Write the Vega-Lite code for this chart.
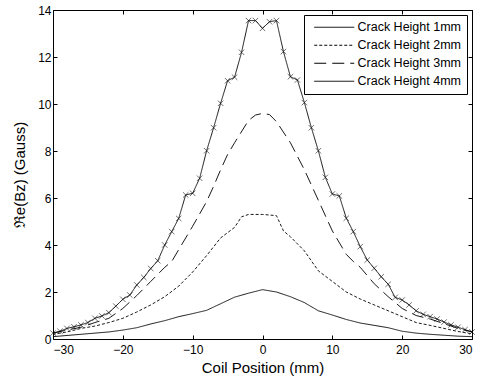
{
  "$schema": "https://vega.github.io/schema/vega-lite/v6.json",
  "width": 419,
  "height": 329,
  "autosize": "none",
  "padding": {"left": 53, "top": 10, "right": 5, "bottom": 44},
  "background": "white",
  "config": {
    "font": "Liberation Sans",
    "view": {"stroke": "black", "strokeWidth": 1},
    "axis": {
      "grid": false,
      "domain": false,
      "tickColor": "black",
      "tickSize": -4,
      "labelColor": "black",
      "labelFont": "Liberation Sans",
      "labelFontSize": 12,
      "titleFont": "Liberation Sans",
      "titleFontSize": 15,
      "titleFontWeight": "normal",
      "titleColor": "black"
    },
    "legend": {
      "orient": "top-right",
      "offset": 5,
      "strokeColor": "black",
      "fillColor": "white",
      "padding": 6,
      "symbolType": "M-8,0H8",
      "symbolSize": 25,
      "symbolOffset": 18,
      "symbolStrokeWidth": 1,
      "symbolStrokeColor": "black",
      "labelFont": "Liberation Sans",
      "labelFontSize": 12.5,
      "labelColor": "black",
      "labelOffset": 17,
      "rowPadding": 5
    }
  },
  "data": {
    "values": [
      {"x": -30, "y": 0.1, "series": "Crack Height 1mm"},
      {"x": -28, "y": 0.15, "series": "Crack Height 1mm"},
      {"x": -26, "y": 0.2, "series": "Crack Height 1mm"},
      {"x": -24, "y": 0.25, "series": "Crack Height 1mm"},
      {"x": -22, "y": 0.3, "series": "Crack Height 1mm"},
      {"x": -20, "y": 0.38, "series": "Crack Height 1mm"},
      {"x": -18, "y": 0.48, "series": "Crack Height 1mm"},
      {"x": -16, "y": 0.64, "series": "Crack Height 1mm"},
      {"x": -14, "y": 0.78, "series": "Crack Height 1mm"},
      {"x": -12, "y": 0.95, "series": "Crack Height 1mm"},
      {"x": -10, "y": 1.08, "series": "Crack Height 1mm"},
      {"x": -8, "y": 1.22, "series": "Crack Height 1mm"},
      {"x": -6, "y": 1.5, "series": "Crack Height 1mm"},
      {"x": -4, "y": 1.78, "series": "Crack Height 1mm"},
      {"x": -2, "y": 1.95, "series": "Crack Height 1mm"},
      {"x": 0, "y": 2.1, "series": "Crack Height 1mm"},
      {"x": 2, "y": 2.0, "series": "Crack Height 1mm"},
      {"x": 4, "y": 1.8, "series": "Crack Height 1mm"},
      {"x": 6, "y": 1.55, "series": "Crack Height 1mm"},
      {"x": 8, "y": 1.2, "series": "Crack Height 1mm"},
      {"x": 10, "y": 1.02, "series": "Crack Height 1mm"},
      {"x": 12, "y": 0.83, "series": "Crack Height 1mm"},
      {"x": 14, "y": 0.68, "series": "Crack Height 1mm"},
      {"x": 16, "y": 0.58, "series": "Crack Height 1mm"},
      {"x": 18, "y": 0.48, "series": "Crack Height 1mm"},
      {"x": 20, "y": 0.33, "series": "Crack Height 1mm"},
      {"x": 22, "y": 0.25, "series": "Crack Height 1mm"},
      {"x": 24, "y": 0.2, "series": "Crack Height 1mm"},
      {"x": 26, "y": 0.16, "series": "Crack Height 1mm"},
      {"x": 28, "y": 0.12, "series": "Crack Height 1mm"},
      {"x": 30, "y": 0.1, "series": "Crack Height 1mm"},

      {"x": -30, "y": 0.2, "series": "Crack Height 2mm"},
      {"x": -28, "y": 0.3, "series": "Crack Height 2mm"},
      {"x": -26, "y": 0.45, "series": "Crack Height 2mm"},
      {"x": -24, "y": 0.55, "series": "Crack Height 2mm"},
      {"x": -22, "y": 0.7, "series": "Crack Height 2mm"},
      {"x": -20, "y": 0.88, "series": "Crack Height 2mm"},
      {"x": -18, "y": 1.15, "series": "Crack Height 2mm"},
      {"x": -16, "y": 1.45, "series": "Crack Height 2mm"},
      {"x": -14, "y": 1.8, "series": "Crack Height 2mm"},
      {"x": -12, "y": 2.25, "series": "Crack Height 2mm"},
      {"x": -10, "y": 2.85, "series": "Crack Height 2mm"},
      {"x": -8, "y": 3.55, "series": "Crack Height 2mm"},
      {"x": -6, "y": 4.3, "series": "Crack Height 2mm"},
      {"x": -4, "y": 4.75, "series": "Crack Height 2mm"},
      {"x": -3, "y": 5.2, "series": "Crack Height 2mm"},
      {"x": -2, "y": 5.3, "series": "Crack Height 2mm"},
      {"x": 0, "y": 5.3, "series": "Crack Height 2mm"},
      {"x": 2, "y": 5.25, "series": "Crack Height 2mm"},
      {"x": 3, "y": 4.6, "series": "Crack Height 2mm"},
      {"x": 4, "y": 4.35, "series": "Crack Height 2mm"},
      {"x": 6, "y": 3.75, "series": "Crack Height 2mm"},
      {"x": 8, "y": 2.9, "series": "Crack Height 2mm"},
      {"x": 10, "y": 2.45, "series": "Crack Height 2mm"},
      {"x": 12, "y": 2.0, "series": "Crack Height 2mm"},
      {"x": 14, "y": 1.7, "series": "Crack Height 2mm"},
      {"x": 16, "y": 1.45, "series": "Crack Height 2mm"},
      {"x": 18, "y": 1.2, "series": "Crack Height 2mm"},
      {"x": 20, "y": 0.95, "series": "Crack Height 2mm"},
      {"x": 22, "y": 0.7, "series": "Crack Height 2mm"},
      {"x": 24, "y": 0.58, "series": "Crack Height 2mm"},
      {"x": 26, "y": 0.45, "series": "Crack Height 2mm"},
      {"x": 28, "y": 0.32, "series": "Crack Height 2mm"},
      {"x": 30, "y": 0.22, "series": "Crack Height 2mm"},

      {"x": -30, "y": 0.25, "series": "Crack Height 3mm"},
      {"x": -28, "y": 0.38, "series": "Crack Height 3mm"},
      {"x": -26, "y": 0.5, "series": "Crack Height 3mm"},
      {"x": -24, "y": 0.7, "series": "Crack Height 3mm"},
      {"x": -22, "y": 0.88, "series": "Crack Height 3mm"},
      {"x": -20, "y": 1.3, "series": "Crack Height 3mm"},
      {"x": -18, "y": 1.85, "series": "Crack Height 3mm"},
      {"x": -16, "y": 2.45, "series": "Crack Height 3mm"},
      {"x": -14, "y": 3.05, "series": "Crack Height 3mm"},
      {"x": -13, "y": 3.3, "series": "Crack Height 3mm"},
      {"x": -12, "y": 3.8, "series": "Crack Height 3mm"},
      {"x": -10, "y": 4.8, "series": "Crack Height 3mm"},
      {"x": -8, "y": 5.85, "series": "Crack Height 3mm"},
      {"x": -7, "y": 6.5, "series": "Crack Height 3mm"},
      {"x": -6, "y": 7.2, "series": "Crack Height 3mm"},
      {"x": -5, "y": 7.85, "series": "Crack Height 3mm"},
      {"x": -4, "y": 8.35, "series": "Crack Height 3mm"},
      {"x": -2, "y": 9.3, "series": "Crack Height 3mm"},
      {"x": -1, "y": 9.53, "series": "Crack Height 3mm"},
      {"x": 0, "y": 9.6, "series": "Crack Height 3mm"},
      {"x": 1, "y": 9.55, "series": "Crack Height 3mm"},
      {"x": 2, "y": 9.25, "series": "Crack Height 3mm"},
      {"x": 4, "y": 8.35, "series": "Crack Height 3mm"},
      {"x": 6, "y": 7.2, "series": "Crack Height 3mm"},
      {"x": 8, "y": 5.9, "series": "Crack Height 3mm"},
      {"x": 10, "y": 4.6, "series": "Crack Height 3mm"},
      {"x": 12, "y": 3.6, "series": "Crack Height 3mm"},
      {"x": 13, "y": 3.3, "series": "Crack Height 3mm"},
      {"x": 14, "y": 3.05, "series": "Crack Height 3mm"},
      {"x": 16, "y": 2.35, "series": "Crack Height 3mm"},
      {"x": 18, "y": 1.8, "series": "Crack Height 3mm"},
      {"x": 20, "y": 1.3, "series": "Crack Height 3mm"},
      {"x": 22, "y": 1.0, "series": "Crack Height 3mm"},
      {"x": 24, "y": 0.85, "series": "Crack Height 3mm"},
      {"x": 26, "y": 0.65, "series": "Crack Height 3mm"},
      {"x": 28, "y": 0.45, "series": "Crack Height 3mm"},
      {"x": 30, "y": 0.3, "series": "Crack Height 3mm"},

      {"x": -30, "y": 0.25, "series": "Crack Height 4mm"},
      {"x": -29, "y": 0.33, "series": "Crack Height 4mm"},
      {"x": -28, "y": 0.45, "series": "Crack Height 4mm"},
      {"x": -27, "y": 0.52, "series": "Crack Height 4mm"},
      {"x": -26, "y": 0.6, "series": "Crack Height 4mm"},
      {"x": -25, "y": 0.7, "series": "Crack Height 4mm"},
      {"x": -24, "y": 0.88, "series": "Crack Height 4mm"},
      {"x": -23, "y": 0.98, "series": "Crack Height 4mm"},
      {"x": -22, "y": 1.12, "series": "Crack Height 4mm"},
      {"x": -21, "y": 1.4, "series": "Crack Height 4mm"},
      {"x": -20, "y": 1.69, "series": "Crack Height 4mm"},
      {"x": -19, "y": 1.87, "series": "Crack Height 4mm"},
      {"x": -18, "y": 2.3, "series": "Crack Height 4mm"},
      {"x": -17, "y": 2.62, "series": "Crack Height 4mm"},
      {"x": -16, "y": 3.0, "series": "Crack Height 4mm"},
      {"x": -15, "y": 3.33, "series": "Crack Height 4mm"},
      {"x": -14, "y": 4.0, "series": "Crack Height 4mm"},
      {"x": -13, "y": 4.57, "series": "Crack Height 4mm"},
      {"x": -12, "y": 5.13, "series": "Crack Height 4mm"},
      {"x": -11, "y": 6.13, "series": "Crack Height 4mm"},
      {"x": -10, "y": 6.2, "series": "Crack Height 4mm"},
      {"x": -9, "y": 6.84, "series": "Crack Height 4mm"},
      {"x": -8, "y": 8.01, "series": "Crack Height 4mm"},
      {"x": -7, "y": 8.99, "series": "Crack Height 4mm"},
      {"x": -6, "y": 10.03, "series": "Crack Height 4mm"},
      {"x": -5, "y": 10.99, "series": "Crack Height 4mm"},
      {"x": -4, "y": 11.14, "series": "Crack Height 4mm"},
      {"x": -3, "y": 12.2, "series": "Crack Height 4mm"},
      {"x": -2, "y": 13.55, "series": "Crack Height 4mm"},
      {"x": -1, "y": 13.55, "series": "Crack Height 4mm"},
      {"x": 0, "y": 13.22, "series": "Crack Height 4mm"},
      {"x": 1, "y": 13.5, "series": "Crack Height 4mm"},
      {"x": 2, "y": 13.55, "series": "Crack Height 4mm"},
      {"x": 3, "y": 12.23, "series": "Crack Height 4mm"},
      {"x": 4, "y": 11.16, "series": "Crack Height 4mm"},
      {"x": 5, "y": 11.02, "series": "Crack Height 4mm"},
      {"x": 6, "y": 10.06, "series": "Crack Height 4mm"},
      {"x": 7, "y": 8.99, "series": "Crack Height 4mm"},
      {"x": 8, "y": 8.01, "series": "Crack Height 4mm"},
      {"x": 9, "y": 6.88, "series": "Crack Height 4mm"},
      {"x": 10, "y": 6.17, "series": "Crack Height 4mm"},
      {"x": 11, "y": 6.09, "series": "Crack Height 4mm"},
      {"x": 12, "y": 5.14, "series": "Crack Height 4mm"},
      {"x": 13, "y": 4.57, "series": "Crack Height 4mm"},
      {"x": 14, "y": 3.93, "series": "Crack Height 4mm"},
      {"x": 15, "y": 3.36, "series": "Crack Height 4mm"},
      {"x": 16, "y": 3.01, "series": "Crack Height 4mm"},
      {"x": 17, "y": 2.65, "series": "Crack Height 4mm"},
      {"x": 18, "y": 2.33, "series": "Crack Height 4mm"},
      {"x": 19, "y": 1.77, "series": "Crack Height 4mm"},
      {"x": 20, "y": 1.66, "series": "Crack Height 4mm"},
      {"x": 21, "y": 1.45, "series": "Crack Height 4mm"},
      {"x": 22, "y": 1.2, "series": "Crack Height 4mm"},
      {"x": 23, "y": 1.05, "series": "Crack Height 4mm"},
      {"x": 24, "y": 0.95, "series": "Crack Height 4mm"},
      {"x": 25, "y": 0.85, "series": "Crack Height 4mm"},
      {"x": 26, "y": 0.72, "series": "Crack Height 4mm"},
      {"x": 27, "y": 0.6, "series": "Crack Height 4mm"},
      {"x": 28, "y": 0.5, "series": "Crack Height 4mm"},
      {"x": 29, "y": 0.4, "series": "Crack Height 4mm"},
      {"x": 30, "y": 0.3, "series": "Crack Height 4mm"}
    ]
  },
  "layer": [
    {
      "mark": {"type": "line", "color": "black", "strokeWidth": 0.9, "clip": true},
      "encoding": {
        "x": {"field": "x", "type": "quantitative", "scale": {"domain": [-30, 30], "nice": false},
              "axis": {"values": [-30, -20, -10, 0, 10, 20, 30], "title": "Coil Position (mm)", "labelPadding": 9, "titlePadding": 5}},
        "y": {"field": "y", "type": "quantitative", "scale": {"domain": [0, 14], "nice": false},
              "axis": {"values": [0, 2, 4, 6, 8, 10, 12, 14], "title": "ℜe(Bz) (Gauss)", "labelPadding": 6, "titlePadding": 10}},
        "strokeDash": {"field": "series", "type": "nominal",
          "scale": {"domain": ["Crack Height 1mm", "Crack Height 2mm", "Crack Height 3mm", "Crack Height 4mm"],
                    "range": [[1, 0], [3, 2], [12, 6], [1, 0]]},
          "legend": {"title": null}}
      }
    },
    {
      "transform": [{"filter": "datum.series === 'Crack Height 4mm'"}],
      "mark": {"type": "point", "shape": "M-1,-1L1,1M-1,1L1,-1", "size": 30, "filled": false, "stroke": "black", "strokeWidth": 0.8},
      "encoding": {
        "x": {"field": "x", "type": "quantitative", "axis": {"orient": "top", "values": [-30, -20, -10, 0, 10, 20, 30], "labels": false, "title": null}},
        "y": {"field": "y", "type": "quantitative", "axis": {"orient": "right", "values": [0, 2, 4, 6, 8, 10, 12, 14], "labels": false, "title": null}}
      }
    }
  ],
  "resolve": {"axis": {"x": "independent", "y": "independent"}}
}
